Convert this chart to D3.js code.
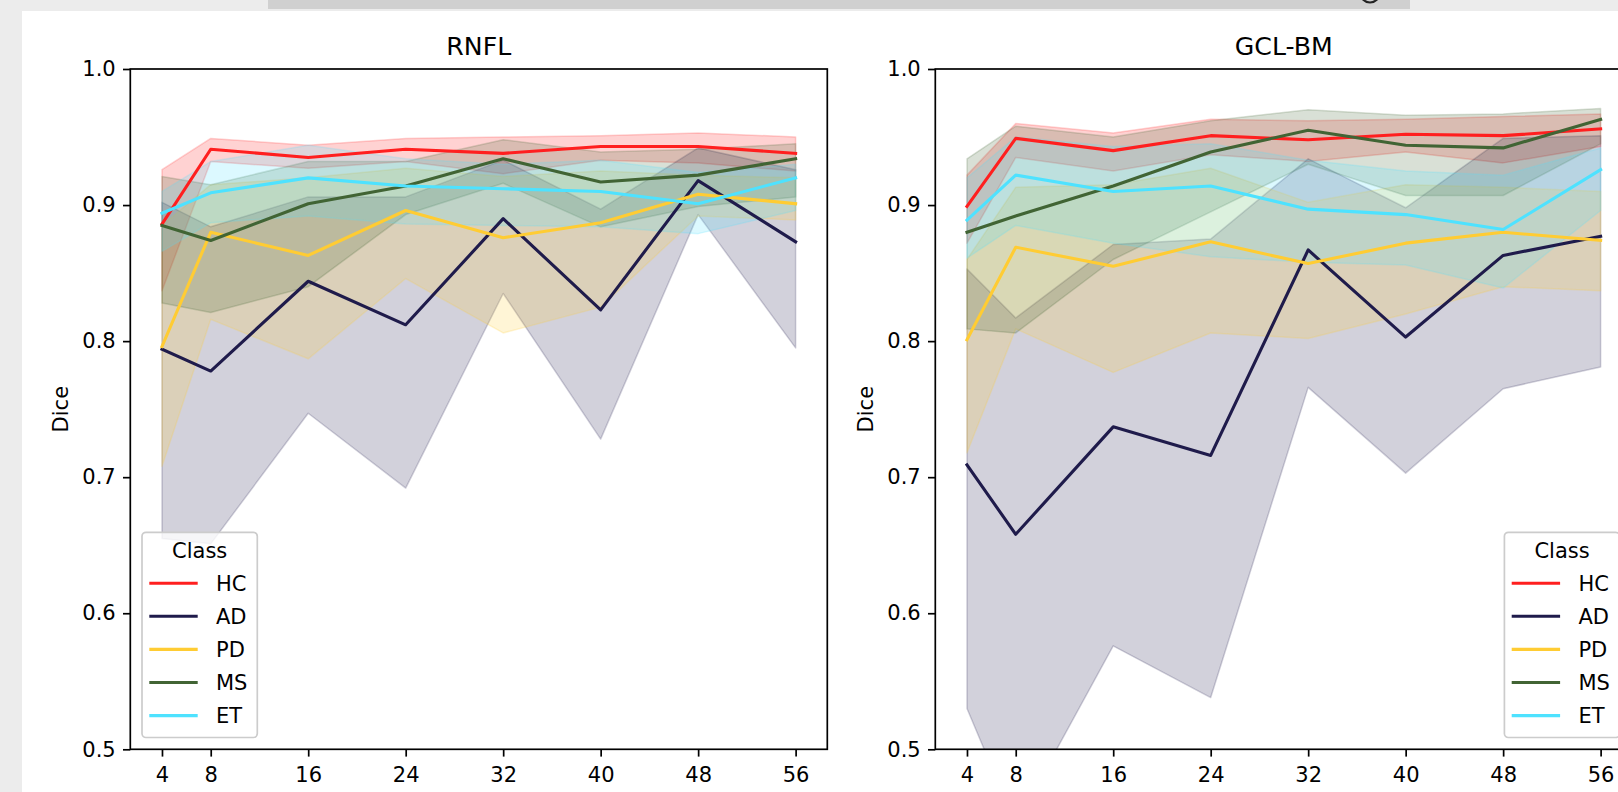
<!DOCTYPE html>
<html>
<head>
<meta charset="utf-8">
<script src="https://cdn.jsdelivr.net/npm/d3@7"></script>
<style>
  html, body { margin: 0; padding: 0; background: #ececec; }
  svg { display: block; }
  text { font-family: "DejaVu Sans", sans-serif; fill: #000; }
</style>
</head>
<body>
<svg id="chart" width="1618" height="792"></svg>
<script>
// ---------------- data ----------------
const xValues = [4, 8, 16, 24, 32, 40, 48, 56];
const classes = ["HC", "AD", "PD", "MS", "ET"];
const yTicks = [0.5, 0.6, 0.7, 0.8, 0.9, 1.0];
const panelTitles = ["RNFL", "GCL-BM"];

// RNFL: mean, lower bound, upper bound of the band
const rnflHC   = [0.886, 0.941, 0.935, 0.941, 0.938, 0.943, 0.943, 0.938];
const rnflHCLo = [0.837, 0.932, 0.927, 0.932, 0.923, 0.933, 0.931, 0.925];
const rnflHCHi = [0.926, 0.949, 0.944, 0.949, 0.950, 0.951, 0.953, 0.950];

const rnflAD   = [0.794, 0.778, 0.844, 0.812, 0.890, 0.823, 0.918, 0.873];
const rnflADLo = [0.655, 0.651, 0.747, 0.692, 0.835, 0.728, 0.893, 0.795];
const rnflADHi = [0.902, 0.884, 0.906, 0.906, 0.933, 0.897, 0.942, 0.926];

const rnflPD   = [0.796, 0.880, 0.863, 0.896, 0.876, 0.887, 0.908, 0.901];
const rnflPDLo = [0.708, 0.816, 0.787, 0.846, 0.806, 0.825, 0.892, 0.889];
const rnflPDHi = [0.885, 0.915, 0.920, 0.927, 0.921, 0.925, 0.922, 0.920];

const rnflMS   = [0.885, 0.874, 0.901, 0.914, 0.934, 0.917, 0.922, 0.934];
const rnflMSLo = [0.828, 0.821, 0.840, 0.893, 0.916, 0.884, 0.899, 0.906];
const rnflMSHi = [0.921, 0.915, 0.932, 0.932, 0.948, 0.939, 0.941, 0.945];

const rnflET   = [0.894, 0.909, 0.920, 0.914, 0.912, 0.910, 0.901, 0.920];
const rnflETLo = [0.866, 0.887, 0.892, 0.886, 0.885, 0.884, 0.879, 0.896];
const rnflETHi = [0.910, 0.932, 0.944, 0.934, 0.930, 0.933, 0.924, 0.930];

// GCL-BM
const gclHC   = [0.899, 0.949, 0.940, 0.951, 0.948, 0.952, 0.951, 0.956];
const gclHCLo = [0.872, 0.935, 0.925, 0.937, 0.932, 0.939, 0.931, 0.943];
const gclHCHi = [0.922, 0.960, 0.953, 0.963, 0.962, 0.963, 0.965, 0.967];

const gclAD   = [0.709, 0.658, 0.737, 0.716, 0.867, 0.803, 0.863, 0.877];
const gclADLo = [0.530, 0.445, 0.576, 0.538, 0.766, 0.703, 0.765, 0.781];
const gclADHi = [0.853, 0.817, 0.871, 0.875, 0.934, 0.898, 0.949, 0.951];

const gclPD   = [0.801, 0.869, 0.855, 0.873, 0.857, 0.872, 0.880, 0.874];
const gclPDLo = [0.718, 0.809, 0.777, 0.806, 0.802, 0.820, 0.840, 0.837];
const gclPDHi = [0.860, 0.913, 0.915, 0.927, 0.902, 0.915, 0.913, 0.910];

const gclMS   = [0.880, 0.892, 0.914, 0.939, 0.955, 0.944, 0.942, 0.963];
const gclMSLo = [0.809, 0.806, 0.860, 0.895, 0.930, 0.907, 0.907, 0.945];
const gclMSHi = [0.934, 0.958, 0.950, 0.962, 0.970, 0.966, 0.967, 0.971];

const gclET   = [0.889, 0.922, 0.910, 0.914, 0.897, 0.893, 0.882, 0.926];
const gclETLo = [0.861, 0.885, 0.872, 0.862, 0.858, 0.856, 0.839, 0.896];
const gclETHi = [0.920, 0.950, 0.943, 0.945, 0.933, 0.925, 0.922, 0.942];

// ---------------- style ----------------
const classColors = { HC: "#ff1f1f", AD: "#1f1b4b", PD: "#ffcc33", MS: "#416434", ET: "#4ee2ff" };

const panelSeries = [
  { HC: [rnflHC, rnflHCLo, rnflHCHi], AD: [rnflAD, rnflADLo, rnflADHi], PD: [rnflPD, rnflPDLo, rnflPDHi],
    MS: [rnflMS, rnflMSLo, rnflMSHi], ET: [rnflET, rnflETLo, rnflETHi] },
  { HC: [gclHC, gclHCLo, gclHCHi], AD: [gclAD, gclADLo, gclADHi], PD: [gclPD, gclPDLo, gclPDHi],
    MS: [gclMS, gclMSLo, gclMSHi], ET: [gclET, gclETLo, gclETHi] }
];

const svg = d3.select("#chart");
const defs = svg.append("defs");

// page background pieces
svg.append("rect").attr("x", 0).attr("y", 0).attr("width", 1618).attr("height", 792).attr("fill", "#ececec");
svg.append("rect").attr("x", 268).attr("y", 0).attr("width", 1142).attr("height", 9).attr("fill", "#d0d0d0");
defs.append("clipPath").attr("id", "barclip")
  .append("rect").attr("x", 268).attr("y", 0).attr("width", 1142).attr("height", 9);
svg.append("circle").attr("cx", 1370).attr("cy", -7).attr("r", 9.5)
  .attr("fill", "none").attr("stroke", "#222").attr("stroke-width", 2.2).attr("clip-path", "url(#barclip)");
svg.append("rect").attr("x", 22).attr("y", 11).attr("width", 1596).attr("height", 781).attr("fill", "#ffffff");

const plotTop = 69, plotBottom = 749.3, plotW = 697;
const panelLefts = [130.3, 935.3];
const legendLoc = ["left", "right"];

panelLefts.forEach((left, pi) => {
  const x = d3.scaleLinear().domain([1.4, 58.6]).range([left, left + plotW]);
  const y = d3.scaleLinear().domain([0.5, 1.0]).range([plotBottom, plotTop]);
  const g = svg.append("g");

  const clipId = "clip" + pi;
  defs.append("clipPath").attr("id", clipId)
    .append("rect").attr("x", left).attr("y", plotTop).attr("width", plotW).attr("height", plotBottom - plotTop);

  const plot = g.append("g").attr("clip-path", `url(#${clipId})`);
  const series = panelSeries[pi];

  const area = d3.area()
    .x((d, i) => x(xValues[i]))
    .y0(d => y(d[1]))
    .y1(d => y(d[2]));
  const line = d3.line()
    .x((d, i) => x(xValues[i]))
    .y(d => y(d));

  // bands first
  classes.forEach(c => {
    const [m, lo, hi] = series[c];
    const rows = m.map((v, i) => [v, lo[i], hi[i]]);
    plot.append("path").datum(rows)
      .attr("d", area)
      .attr("fill", classColors[c]).attr("fill-opacity", 0.2)
      .attr("stroke", classColors[c]).attr("stroke-opacity", 0.2).attr("stroke-width", 1.5)
      .attr("stroke-linejoin", "round");
  });
  // lines
  classes.forEach(c => {
    plot.append("path").datum(series[c][0])
      .attr("d", line)
      .attr("fill", "none")
      .attr("stroke", classColors[c]).attr("stroke-width", 3.1)
      .attr("stroke-linejoin", "round").attr("stroke-linecap", "square");
  });

  // axes
  const xAxis = d3.axisBottom(x).tickValues(xValues).tickSize(7.3).tickPadding(7.3).tickFormat(d3.format("d"));
  const yAxis = d3.axisLeft(y).tickValues(yTicks).tickSize(7.3).tickPadding(7.3).tickFormat(d3.format(".1f"));
  const gx = g.append("g").attr("transform", `translate(0,${plotBottom})`).call(xAxis);
  const gy = g.append("g").attr("transform", `translate(${left},0)`).call(yAxis);
  [gx, gy].forEach(a => {
    a.select(".domain").remove();
    a.selectAll(".tick line").attr("stroke", "#000").attr("stroke-width", 1.7);
    a.selectAll(".tick text").attr("font-size", 21).attr("font-family", "DejaVu Sans").attr("fill", "#000");
  });
  gx.selectAll(".tick text").attr("dy", null).attr("y", 32.7);

  // spines
  g.append("rect").attr("x", left).attr("y", plotTop).attr("width", plotW).attr("height", plotBottom - plotTop)
    .attr("fill", "none").attr("stroke", "#000").attr("stroke-width", 1.7);

  // title
  g.append("text").attr("x", left + plotW / 2).attr("y", 55)
    .attr("text-anchor", "middle").attr("font-size", 25.2).text(panelTitles[pi]);

  // y label
  g.append("text")
    .attr("transform", `translate(${left - 62.8},${(plotTop + plotBottom) / 2}) rotate(-90)`)
    .attr("text-anchor", "middle").attr("font-size", 21).text("Dice");

  // legend
  const boxW = 115.3, boxTop = 532.3, boxH = 205.2;
  const boxLeft = legendLoc[pi] === "left" ? left + 11.7 : left + plotW - 12.6 - boxW;
  const lg = g.append("g");
  lg.append("rect").attr("x", boxLeft).attr("y", boxTop).attr("width", boxW).attr("height", boxH)
    .attr("rx", 4).attr("ry", 4)
    .attr("fill", "#ffffff").attr("fill-opacity", 0.8)
    .attr("stroke", "#cccccc").attr("stroke-width", 1.7);
  lg.append("text").attr("x", boxLeft + boxW / 2).attr("y", 558.3)
    .attr("text-anchor", "middle").attr("font-size", 21).text("Class");
  classes.forEach((c, i) => {
    const ly = 583.2 + i * 33.1;
    lg.append("line").attr("x1", boxLeft + 7.3).attr("x2", boxLeft + 55.7)
      .attr("y1", ly).attr("y2", ly)
      .attr("stroke", classColors[c]).attr("stroke-width", 3.1);
    lg.append("text").attr("x", boxLeft + 74).attr("y", ly + 7.7)
      .attr("font-size", 21).text(c);
  });
});
</script>
</body>
</html>
